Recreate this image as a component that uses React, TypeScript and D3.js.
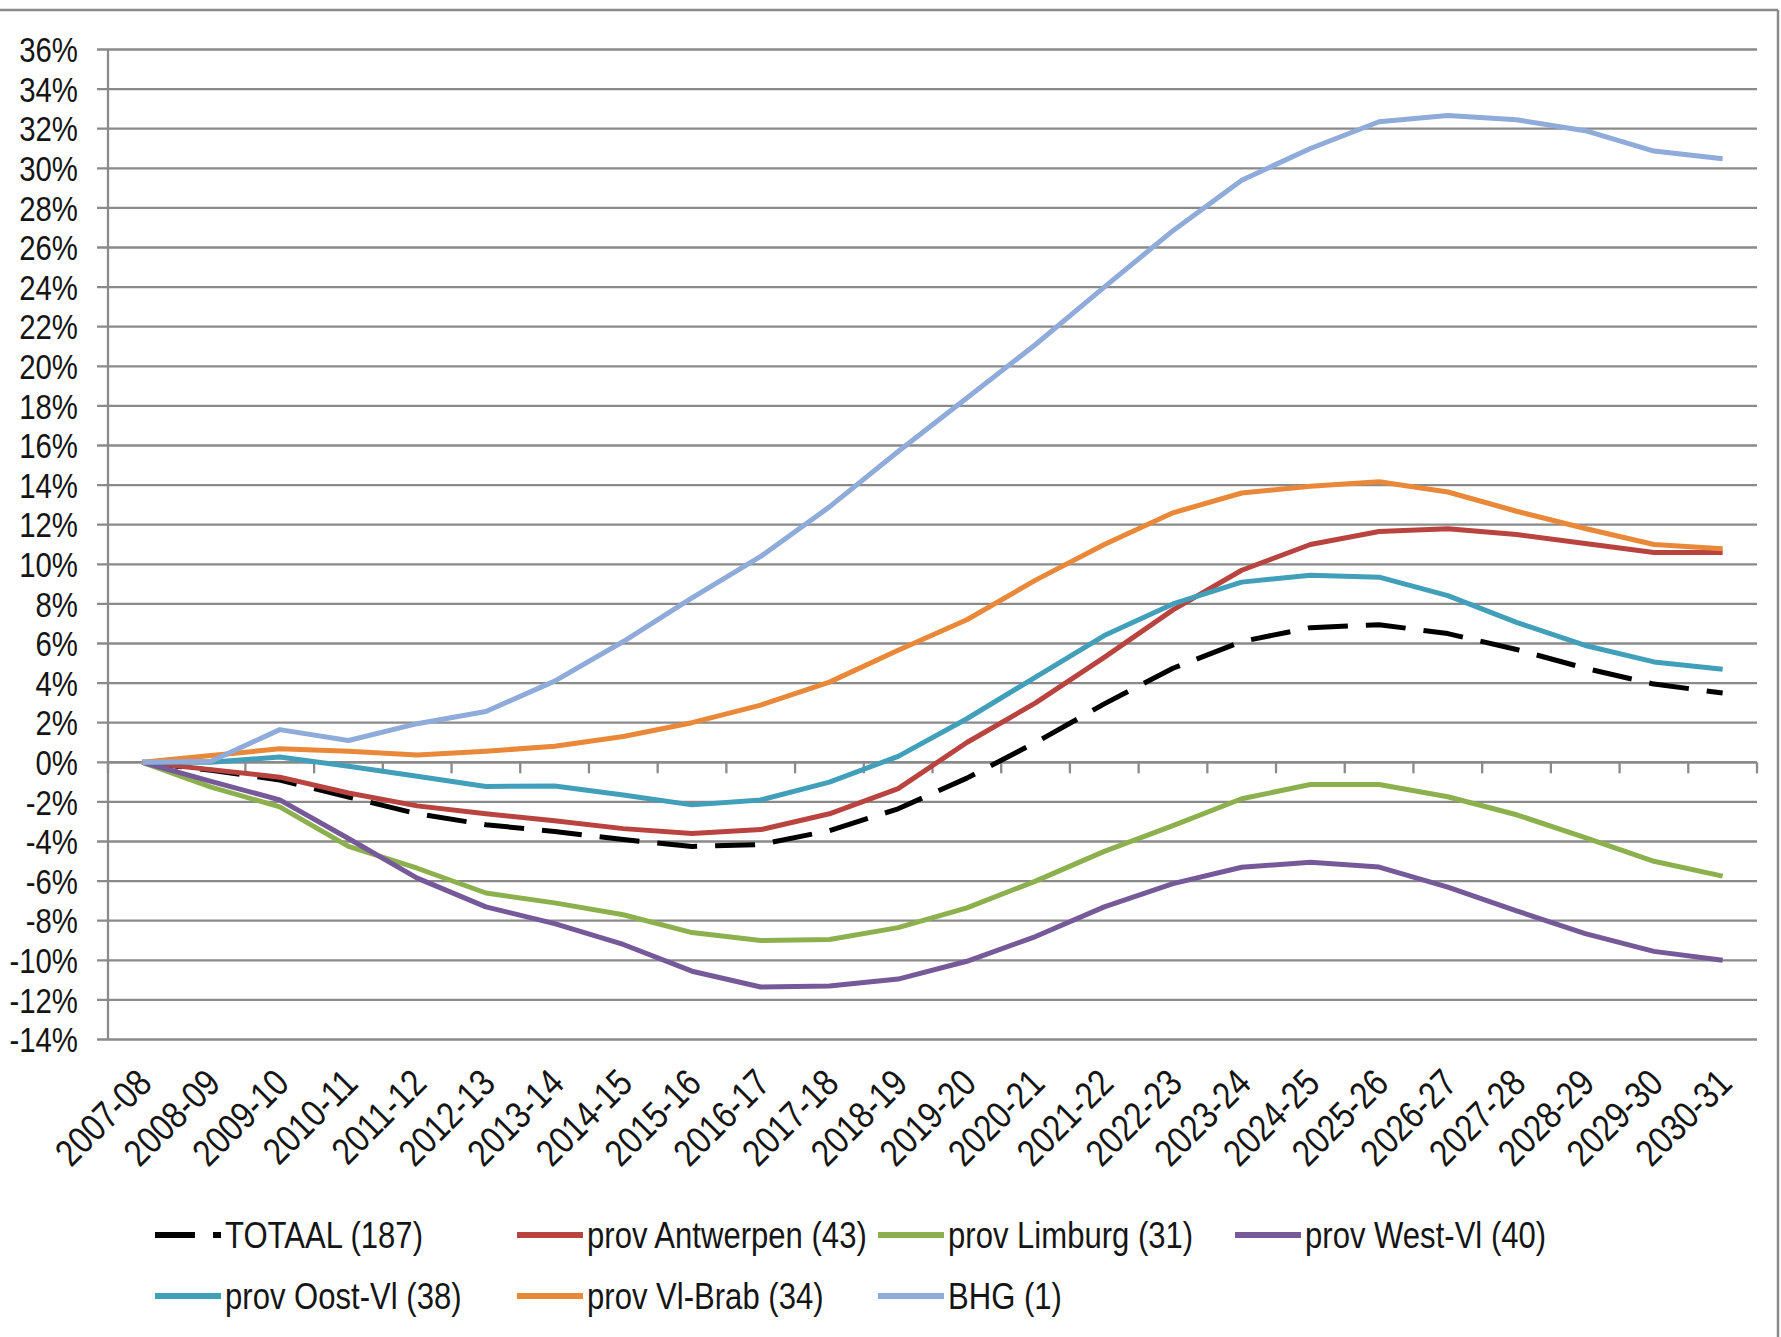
import React from 'react';
import * as d3 from 'd3';

const categories = [
	'2007-08', '2008-09', '2009-10', '2010-11', '2011-12', '2012-13', '2013-14', '2014-15',
	'2015-16', '2016-17', '2017-18', '2018-19', '2019-20', '2020-21', '2021-22', '2022-23',
	'2023-24', '2024-25', '2025-26', '2026-27', '2027-28', '2028-29', '2029-30', '2030-31',
];

// percent change vs 2007-08
const totaal = [0, -0.4, -0.9, -1.75, -2.6, -3.15, -3.5, -3.9, -4.25, -4.15, -3.45, -2.35, -0.8, 1.0, 2.95, 4.75, 6.1, 6.8, 6.95, 6.5, 5.7, 4.75, 3.95, 3.5];
const antwerpen = [0, -0.37, -0.75, -1.55, -2.2, -2.6, -2.95, -3.35, -3.6, -3.4, -2.6, -1.33, 1.0, 3.0, 5.3, 7.7, 9.7, 11.0, 11.66, 11.8, 11.5, 11.05, 10.6, 10.6];
const limburg = [0, -1.25, -2.25, -4.25, -5.35, -6.6, -7.1, -7.7, -8.6, -9.0, -8.95, -8.35, -7.35, -6.0, -4.5, -3.2, -1.84, -1.12, -1.12, -1.74, -2.65, -3.8, -5.0, -5.75];
const westVl = [0, -0.96, -1.9, -3.85, -5.85, -7.3, -8.15, -9.2, -10.55, -11.35, -11.3, -10.95, -10.05, -8.8, -7.3, -6.13, -5.3, -5.05, -5.29, -6.3, -7.5, -8.65, -9.55, -10.0];
const oostVl = [0, 0.0, 0.27, -0.2, -0.7, -1.22, -1.2, -1.65, -2.15, -1.9, -1.0, 0.3, 2.2, 4.3, 6.4, 8.0, 9.1, 9.45, 9.35, 8.42, 7.07, 5.9, 5.07, 4.7];
const vlBrab = [0, 0.34, 0.68, 0.56, 0.37, 0.56, 0.81, 1.3, 2.0, 2.89, 4.05, 5.66, 7.2, 9.2, 11.0, 12.6, 13.6, 13.94, 14.17, 13.65, 12.68, 11.81, 11.0, 10.78];
const bhg = [0, 0.05, 1.65, 1.1, 1.95, 2.57, 4.1, 6.1, 8.3, 10.4, 12.9, 15.7, 18.4, 21.1, 24.0, 26.85, 29.4, 31.0, 32.35, 32.67, 32.45, 31.9, 30.87, 30.48];

const yTicks = d3.range(-14, 37, 2);

const series = [
	{ name: 'TOTAAL (187)', values: totaal, color: '#000000', dash: '40,18' },
	{ name: 'prov Antwerpen (43)', values: antwerpen, color: '#B8433F', dash: null },
	{ name: 'prov Limburg (31)', values: limburg, color: '#8DB04E', dash: null },
	{ name: 'prov West-Vl (40)', values: westVl, color: '#765999', dash: null },
	{ name: 'prov Oost-Vl (38)', values: oostVl, color: '#429FB9', dash: null },
	{ name: 'prov Vl-Brab (34)', values: vlBrab, color: '#EA8839', dash: null },
	{ name: 'BHG (1)', values: bhg, color: '#8FABDA', dash: null },
];

// no narrow face installed: squeeze Liberation Sans horizontally instead
const FONT = '"Liberation Sans", Arial, sans-serif';
const SQ = 0.84;
const GRID = '#8a8a8a';
const INK = '#151515';

const App = () => {
	const x = d3.scaleBand<string>().domain(categories).range([108, 1757]).padding(0);
	const cx = (c: string) => (x(c) as number) + x.bandwidth() / 2;
	const y = d3.scaleLinear().domain([-14, 36]).range([1039.5, 49.5]);

	const line = d3.line<number>()
		.x((d, i) => cx(categories[i]))
		.y(d => y(d));

	// legend layout: two rows of four columns
	const legendCols = [155, 517, 878, 1235];
	const legendRows = [1235, 1296];

	return (
		<svg width={1781} height={1337} style={{ position: 'absolute', left: 0, top: 0, background: '#fff' }}>
			{/* frame */}
			<line x1={0} x2={1778} y1={10} y2={10} stroke={GRID} strokeWidth={2.5} />
			<line x1={1778} x2={1778} y1={10} y2={1337} stroke={GRID} strokeWidth={2.5} />

			{/* gridlines + y labels */}
			{yTicks.map(t => (
				<g key={t}>
					<line x1={97} x2={1757} y1={y(t)} y2={y(t)} stroke={GRID} strokeWidth={2.3} />
					<text transform={`translate(78,${y(t)}) scale(${SQ},1)`} textAnchor='end' dy='0.36em'
						fontFamily={FONT} fontSize={35} fill={INK}>{t + '%'}</text>
				</g>
			))}

			{/* y axis */}
			<line x1={108} x2={108} y1={y(36)} y2={y(-14)} stroke={GRID} strokeWidth={2.3} />

			{/* x axis at 0 with ticks at category boundaries */}
			<line x1={108} x2={1757} y1={y(0)} y2={y(0)} stroke={GRID} strokeWidth={2.5} />
			{d3.range(categories.length + 1).map(k => {
				const bx = 108 + k * x.bandwidth();
				return <line key={k} x1={bx} x2={bx} y1={y(0)} y2={y(0) + 11} stroke={GRID} strokeWidth={2.3} />;
			})}

			{/* x labels */}
			{categories.map(c => (
				<text key={c} transform={`translate(${cx(c) - 8},${1066}) rotate(-45) scale(${SQ},1)`}
					textAnchor='end' dy='0.72em' fontFamily={FONT} fontSize={38} fill={INK}>{c}</text>
			))}

			{/* series */}
			{series.map(s => (
				<path key={s.name} d={line(s.values) as string} fill='none' stroke={s.color}
					strokeWidth={5} strokeDasharray={s.dash || undefined}
					strokeLinejoin='round' />
			))}

			{/* legend */}
			{series.map((s, i) => {
				const lx = legendCols[i % 4];
				const ly = legendRows[Math.floor(i / 4)];
				return (
					<g key={s.name}>
						<line x1={lx} x2={lx + 66} y1={ly} y2={ly} stroke={s.color} strokeWidth={6}
							strokeDasharray={s.dash || undefined} />
						<text transform={`translate(${lx + 70},${ly}) scale(${SQ},1)`} dy='0.36em'
							fontFamily={FONT} fontSize={37} fill={INK}>{s.name}</text>
					</g>
				);
			})}
		</svg>
	);
};

export default App;
